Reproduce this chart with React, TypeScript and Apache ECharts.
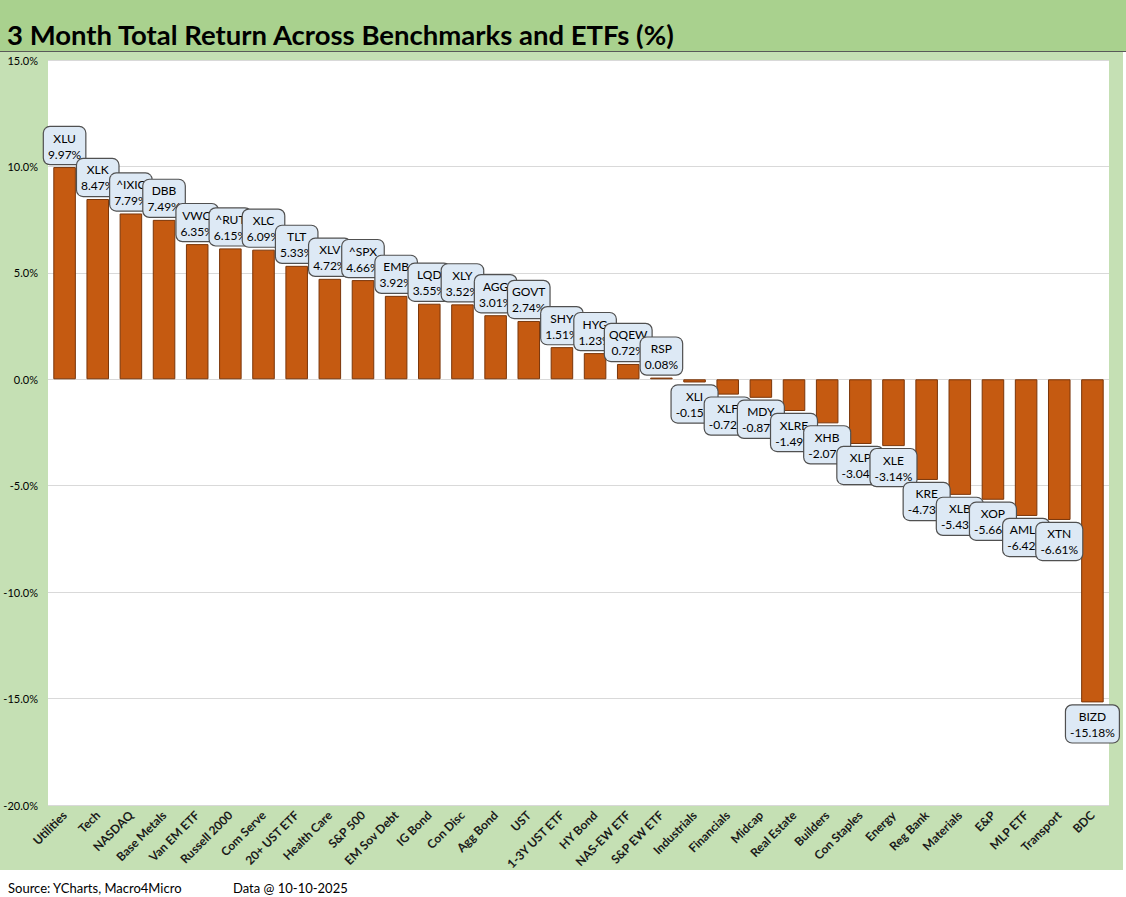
import React, { useEffect, useRef } from "react";
import * as echarts from "echarts";

const categories = [
  "Utilities", "Tech", "NASDAQ", "Base Metals", "Van EM ETF", "Russell 2000", "Com Serve",
  "20+ UST ETF", "Health Care", "S&P 500", "EM Sov Debt", "IG Bond", "Con Disc", "Agg Bond",
  "UST", "1-3Y UST ETF", "HY Bond", "NAS-EW ETF", "S&P EW ETF", "Industrials", "Financials",
  "Midcap", "Real Estate", "Builders", "Con Staples", "Energy", "Reg Bank", "Materials",
  "E&P", "MLP ETF", "Transport", "BDC",
];
const tickers = [
  "XLU", "XLK", "^IXIC", "DBB", "VWO", "^RUT", "XLC", "TLT", "XLV", "^SPX", "EMB", "LQD",
  "XLY", "AGG", "GOVT", "SHY", "HYG", "QQEW", "RSP", "XLI", "XLF", "MDY", "XLRE", "XHB",
  "XLP", "XLE", "KRE", "XLB", "XOP", "AMLP", "XTN", "BIZD",
];
const values = [
  9.97, 8.47, 7.79, 7.49, 6.35, 6.15, 6.09, 5.33, 4.72, 4.66, 3.92, 3.55, 3.52, 3.01,
  2.74, 1.51, 1.23, 0.72, 0.08, -0.15, -0.72, -0.87, -1.49, -2.07, -3.04, -3.14, -4.73,
  -5.43, -5.66, -6.42, -6.61, -15.18,
];
const yTicks = { min: -20, max: 15, interval: 5 };
const titleText = "3 Month Total Return Across Benchmarks and ETFs (%)";
const sourceText = "Source: YCharts, Macro4Micro";
const dateText = "Data @ 10-10-2025";

const FONT = "Lato";

export default function App() {
  const ref = useRef<HTMLDivElement>(null);
  useEffect(() => {
    if (!ref.current) return;
    const chart = echarts.init(ref.current, null, { renderer: "svg" });
    const data = values.map((v, i) => ({
      value: v,
      label: {
        position: v >= 0 ? "top" : "bottom",
        formatter: () => `${tickers[i]}\n${v.toFixed(2)}%`,
      },
    }));
    chart.setOption({
      animation: false,
      backgroundColor: "transparent",
      textStyle: { fontFamily: FONT },
      title: [
        {
          text: titleText,
          left: 2,
          top: 15,
          textStyle: { fontFamily: FONT, fontSize: 27.5, fontWeight: "bold", color: "#000" },
        },
        {
          text: sourceText,
          left: 3,
          top: 876,
          textStyle: { fontFamily: FONT, fontSize: 13, fontWeight: "normal", color: "#000" },
        },
        {
          text: dateText,
          left: 228,
          top: 876,
          textStyle: { fontFamily: FONT, fontSize: 13, fontWeight: "normal", color: "#000" },
        },
      ],
      grid: {
        left: 48,
        right: 17,
        top: 60,
        bottom: 92,
        show: true,
        backgroundColor: "#ffffff",
        borderWidth: 0,
      },
      xAxis: {
        type: "category",
        data: categories,
        axisLine: { show: false, onZero: false },
        axisTick: { show: false },
        axisLabel: {
          interval: 0,
          rotate: 45,
          margin: 8,
          fontSize: 12,
          fontFamily: FONT,
          fontWeight: "bold",
          color: "#1a1a1a",
        },
      },
      yAxis: {
        type: "value",
        min: yTicks.min,
        max: yTicks.max,
        interval: yTicks.interval,
        axisLine: { show: false },
        axisTick: { show: false },
        splitLine: { lineStyle: { color: "#d9d9d9", width: 1 } },
        axisLabel: {
          formatter: (v: number) => `${v.toFixed(1)}%`,
          fontSize: 11,
          fontFamily: FONT,
          color: "#000",
          margin: 10,
        },
      },
      series: [
        {
          type: "bar",
          data,
          barWidth: "68%",
          itemStyle: { color: "#c55a11", borderColor: "#7a360a", borderWidth: 1 },
          label: {
            show: true,
            distance: 3,
            fontFamily: FONT,
            fontSize: 12,
            lineHeight: 16,
            color: "#000",
            backgroundColor: "#dde9f5",
            borderColor: "#505050",
            borderWidth: 1.2,
            borderRadius: 6,
            padding: [3, 4, 2, 4],
            align: "center",
          },
          labelLayout: { hideOverlap: false },
        },
      ],
    });
    return () => chart.dispose();
  }, []);

  return (
    <div style={{ position: "absolute", left: 0, top: 0, width: 1126, height: 897, background: "#ffffff" }}>
      <div style={{ position: "absolute", left: 0, top: 0, width: 1126, height: 51, background: "#a9d18e", borderBottom: "1px solid #595959" }} />
      <div style={{ position: "absolute", left: 0, top: 52, width: 1123, height: 818, background: "#c5e0b4" }} />
      <div ref={ref} style={{ position: "absolute", left: 0, top: 0, width: 1126, height: 897 }} />
    </div>
  );
}
